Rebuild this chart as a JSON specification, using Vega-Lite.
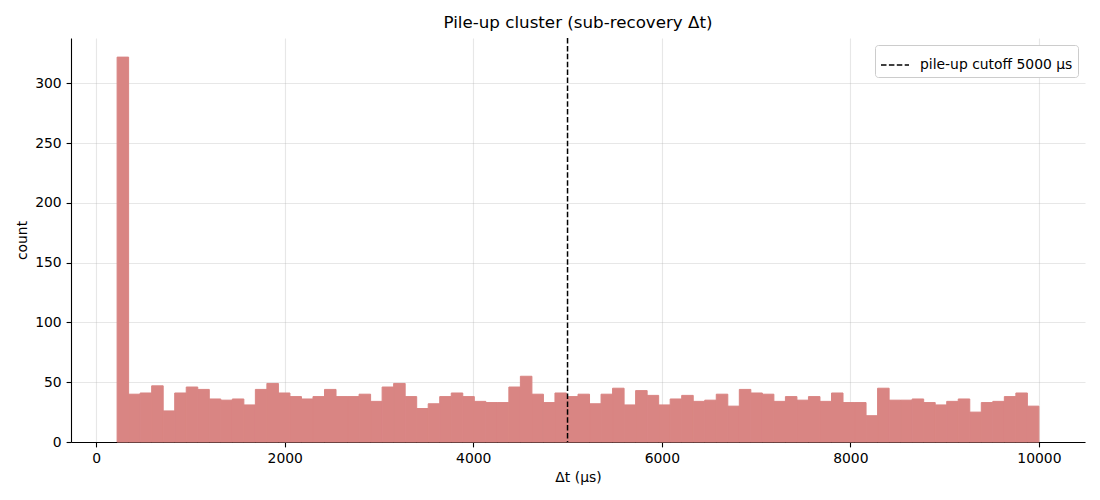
{
  "$schema": "https://vega.github.io/schema/vega-lite/v6.json",
  "width": 1014,
  "height": 404,
  "autosize": {"type": "none"},
  "padding": {"left": 71, "top": 38, "right": 15, "bottom": 58},
  "background": "white",
  "title": {"text": "Pile-up cluster (sub-recovery Δt)", "fontSize": 16.7, "font": "DejaVu Sans", "fontWeight": "normal", "color": "black", "offset": 6, "anchor": "middle"},
  "config": {
    "view": {"stroke": null},
    "font": "DejaVu Sans",
    "axis": {
      "domainColor": "black", "domainWidth": 1.1,
      "tickColor": "black", "tickWidth": 1.1, "tickSize": 4.9,
      "labelPadding": 4.9, "labelFontSize": 13.9, "labelColor": "black", "labelFont": "DejaVu Sans",
      "titleFontSize": 13.9, "titleFontWeight": "normal", "titleColor": "black", "titleFont": "DejaVu Sans",
      "grid": true, "gridColor": "#b0b0b0", "gridOpacity": 0.3, "gridWidth": 1.1
    },
    "legend": {
      "orient": "top-right", "offset": 7, "strokeColor": "#cccccc", "fillColor": "white",
      "padding": 5, "cornerRadius": 3, "symbolType": "stroke", "symbolSize": 784,
      "symbolStrokeWidth": 1.5, "symbolDash": [5.5, 2.4], "symbolStrokeColor": "black",
      "labelFontSize": 13.9, "labelColor": "black", "labelFont": "DejaVu Sans", "labelOffset": 10
    }
  },
  "layer": [
    {
      "data": {"values": [
        {"bin_start": 222.0, "bin_end": 344.2, "count": 322},
        {"bin_start": 344.2, "bin_end": 466.5, "count": 40},
        {"bin_start": 466.5, "bin_end": 588.7, "count": 41},
        {"bin_start": 588.7, "bin_end": 710.9, "count": 47},
        {"bin_start": 710.9, "bin_end": 833.1, "count": 26},
        {"bin_start": 833.1, "bin_end": 955.4, "count": 41},
        {"bin_start": 955.4, "bin_end": 1077.6, "count": 46},
        {"bin_start": 1077.6, "bin_end": 1199.8, "count": 44},
        {"bin_start": 1199.8, "bin_end": 1322.0, "count": 36},
        {"bin_start": 1322.0, "bin_end": 1444.3, "count": 35},
        {"bin_start": 1444.3, "bin_end": 1566.5, "count": 36},
        {"bin_start": 1566.5, "bin_end": 1688.7, "count": 31},
        {"bin_start": 1688.7, "bin_end": 1810.9, "count": 44},
        {"bin_start": 1810.9, "bin_end": 1933.2, "count": 49},
        {"bin_start": 1933.2, "bin_end": 2055.4, "count": 41},
        {"bin_start": 2055.4, "bin_end": 2177.6, "count": 38},
        {"bin_start": 2177.6, "bin_end": 2299.8, "count": 36},
        {"bin_start": 2299.8, "bin_end": 2422.1, "count": 38},
        {"bin_start": 2422.1, "bin_end": 2544.3, "count": 44},
        {"bin_start": 2544.3, "bin_end": 2666.5, "count": 38},
        {"bin_start": 2666.5, "bin_end": 2788.7, "count": 38},
        {"bin_start": 2788.7, "bin_end": 2911.0, "count": 40},
        {"bin_start": 2911.0, "bin_end": 3033.2, "count": 34},
        {"bin_start": 3033.2, "bin_end": 3155.4, "count": 46},
        {"bin_start": 3155.4, "bin_end": 3277.6, "count": 49},
        {"bin_start": 3277.6, "bin_end": 3399.9, "count": 38},
        {"bin_start": 3399.9, "bin_end": 3522.1, "count": 28},
        {"bin_start": 3522.1, "bin_end": 3644.3, "count": 32},
        {"bin_start": 3644.3, "bin_end": 3766.5, "count": 38},
        {"bin_start": 3766.5, "bin_end": 3888.8, "count": 41},
        {"bin_start": 3888.8, "bin_end": 4011.0, "count": 38},
        {"bin_start": 4011.0, "bin_end": 4133.2, "count": 34},
        {"bin_start": 4133.2, "bin_end": 4255.4, "count": 33},
        {"bin_start": 4255.4, "bin_end": 4377.7, "count": 33},
        {"bin_start": 4377.7, "bin_end": 4499.9, "count": 46},
        {"bin_start": 4499.9, "bin_end": 4622.1, "count": 55},
        {"bin_start": 4622.1, "bin_end": 4744.3, "count": 40},
        {"bin_start": 4744.3, "bin_end": 4866.6, "count": 33},
        {"bin_start": 4866.6, "bin_end": 4988.8, "count": 41},
        {"bin_start": 4988.8, "bin_end": 5111.0, "count": 38},
        {"bin_start": 5111.0, "bin_end": 5233.2, "count": 40},
        {"bin_start": 5233.2, "bin_end": 5355.5, "count": 32},
        {"bin_start": 5355.5, "bin_end": 5477.7, "count": 40},
        {"bin_start": 5477.7, "bin_end": 5599.9, "count": 45},
        {"bin_start": 5599.9, "bin_end": 5722.1, "count": 31},
        {"bin_start": 5722.1, "bin_end": 5844.4, "count": 43},
        {"bin_start": 5844.4, "bin_end": 5966.6, "count": 39},
        {"bin_start": 5966.6, "bin_end": 6088.8, "count": 31},
        {"bin_start": 6088.8, "bin_end": 6211.0, "count": 36},
        {"bin_start": 6211.0, "bin_end": 6333.3, "count": 39},
        {"bin_start": 6333.3, "bin_end": 6455.5, "count": 34},
        {"bin_start": 6455.5, "bin_end": 6577.7, "count": 35},
        {"bin_start": 6577.7, "bin_end": 6699.9, "count": 40},
        {"bin_start": 6699.9, "bin_end": 6822.2, "count": 30},
        {"bin_start": 6822.2, "bin_end": 6944.4, "count": 44},
        {"bin_start": 6944.4, "bin_end": 7066.6, "count": 41},
        {"bin_start": 7066.6, "bin_end": 7188.8, "count": 40},
        {"bin_start": 7188.8, "bin_end": 7311.1, "count": 34},
        {"bin_start": 7311.1, "bin_end": 7433.3, "count": 38},
        {"bin_start": 7433.3, "bin_end": 7555.5, "count": 35},
        {"bin_start": 7555.5, "bin_end": 7677.7, "count": 38},
        {"bin_start": 7677.7, "bin_end": 7800.0, "count": 34},
        {"bin_start": 7800.0, "bin_end": 7922.2, "count": 41},
        {"bin_start": 7922.2, "bin_end": 8044.4, "count": 33},
        {"bin_start": 8044.4, "bin_end": 8166.6, "count": 33},
        {"bin_start": 8166.6, "bin_end": 8288.9, "count": 22},
        {"bin_start": 8288.9, "bin_end": 8411.1, "count": 45},
        {"bin_start": 8411.1, "bin_end": 8533.3, "count": 35},
        {"bin_start": 8533.3, "bin_end": 8655.5, "count": 35},
        {"bin_start": 8655.5, "bin_end": 8777.8, "count": 36},
        {"bin_start": 8777.8, "bin_end": 8900.0, "count": 33},
        {"bin_start": 8900.0, "bin_end": 9022.2, "count": 31},
        {"bin_start": 9022.2, "bin_end": 9144.4, "count": 34},
        {"bin_start": 9144.4, "bin_end": 9266.7, "count": 36},
        {"bin_start": 9266.7, "bin_end": 9388.9, "count": 25},
        {"bin_start": 9388.9, "bin_end": 9511.1, "count": 33},
        {"bin_start": 9511.1, "bin_end": 9633.3, "count": 34},
        {"bin_start": 9633.3, "bin_end": 9755.6, "count": 38},
        {"bin_start": 9755.6, "bin_end": 9877.8, "count": 41},
        {"bin_start": 9877.8, "bin_end": 10000.0, "count": 30}
      ]},
      "mark": {"type": "bar", "fill": "#d98583", "stroke": "#d98583", "strokeWidth": 1, "opacity": 1, "fillOpacity": 1, "strokeOpacity": 1},
      "encoding": {
        "x": {"field": "bin_start", "type": "quantitative",
              "scale": {"domain": [-267, 10489], "nice": false, "zero": false},
              "axis": {"title": "Δt (µs)", "values": [0, 2000, 4000, 6000, 8000, 10000], "format": "d", "titlePadding": 5}},
        "x2": {"field": "bin_end"},
        "y": {"field": "count", "type": "quantitative",
              "scale": {"domain": [0, 338], "nice": false},
              "axis": {"title": "count", "values": [0, 50, 100, 150, 200, 250, 300], "format": "d", "titlePadding": 5.6}},
        "y2": {"datum": 0}
      }
    },
    {
      "data": {"values": [{"x": 5000, "label": "pile-up cutoff 5000 µs"}]},
      "mark": {"type": "rule", "strokeDash": [5.5, 2.4], "strokeWidth": 1.5},
      "encoding": {
        "x": {"field": "x", "type": "quantitative"},
        "color": {"field": "label", "type": "nominal", "scale": {"range": ["black"]}, "legend": {"title": null}}
      }
    }
  ]
}
